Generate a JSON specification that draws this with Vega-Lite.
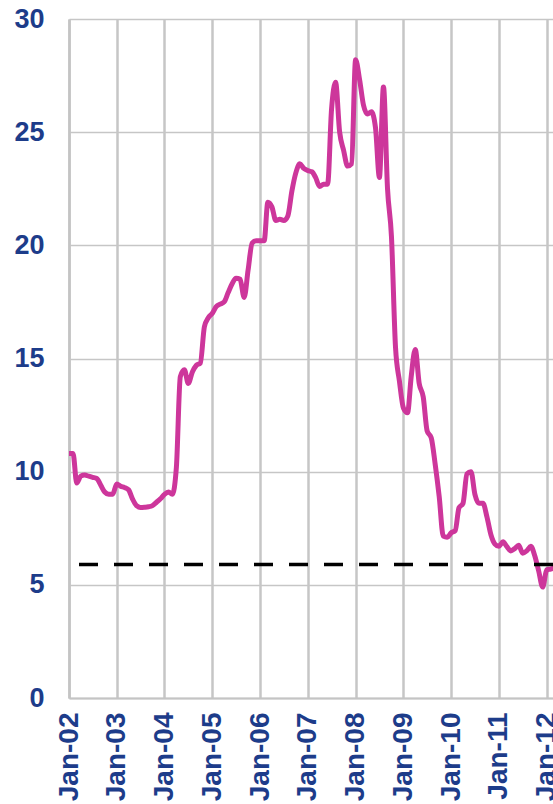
{
  "$schema": "https://vega.github.io/schema/vega-lite/v6.json",
  "width": 484,
  "height": 679,
  "autosize": "none",
  "padding": {"left": 69, "top": 19, "right": 0, "bottom": 106},
  "config": {"view": {"stroke": null}},
  "datasets": {
    "series": [
      {"date": "2002-01-01", "value": 10.8},
      {"date": "2002-02-01", "value": 10.8},
      {"date": "2002-03-01", "value": 9.5},
      {"date": "2002-04-01", "value": 9.8},
      {"date": "2002-05-01", "value": 9.85},
      {"date": "2002-06-01", "value": 9.8},
      {"date": "2002-07-01", "value": 9.75},
      {"date": "2002-08-01", "value": 9.7},
      {"date": "2002-09-01", "value": 9.4},
      {"date": "2002-10-01", "value": 9.1},
      {"date": "2002-11-01", "value": 9.0},
      {"date": "2002-12-01", "value": 9.0},
      {"date": "2003-01-01", "value": 9.45},
      {"date": "2003-02-01", "value": 9.35},
      {"date": "2003-03-01", "value": 9.3},
      {"date": "2003-04-01", "value": 9.2},
      {"date": "2003-05-01", "value": 8.8},
      {"date": "2003-06-01", "value": 8.5},
      {"date": "2003-07-01", "value": 8.42},
      {"date": "2003-08-01", "value": 8.43},
      {"date": "2003-09-01", "value": 8.45},
      {"date": "2003-10-01", "value": 8.5},
      {"date": "2003-11-01", "value": 8.65},
      {"date": "2003-12-01", "value": 8.8},
      {"date": "2004-01-01", "value": 9.0},
      {"date": "2004-02-01", "value": 9.1},
      {"date": "2004-03-01", "value": 9.0},
      {"date": "2004-04-01", "value": 10.2},
      {"date": "2004-05-01", "value": 14.2},
      {"date": "2004-06-01", "value": 14.5},
      {"date": "2004-07-01", "value": 13.9},
      {"date": "2004-08-01", "value": 14.4},
      {"date": "2004-09-01", "value": 14.7},
      {"date": "2004-10-01", "value": 14.8},
      {"date": "2004-11-01", "value": 16.4},
      {"date": "2004-12-01", "value": 16.8},
      {"date": "2005-01-01", "value": 17.0},
      {"date": "2005-02-01", "value": 17.3},
      {"date": "2005-03-01", "value": 17.4},
      {"date": "2005-04-01", "value": 17.5},
      {"date": "2005-05-01", "value": 17.9},
      {"date": "2005-06-01", "value": 18.3},
      {"date": "2005-07-01", "value": 18.55},
      {"date": "2005-08-01", "value": 18.5},
      {"date": "2005-09-01", "value": 17.7},
      {"date": "2005-10-01", "value": 18.9},
      {"date": "2005-11-01", "value": 20.1},
      {"date": "2005-12-01", "value": 20.2},
      {"date": "2006-01-01", "value": 20.2},
      {"date": "2006-02-01", "value": 20.2},
      {"date": "2006-03-01", "value": 21.9},
      {"date": "2006-04-01", "value": 21.7},
      {"date": "2006-05-01", "value": 21.1},
      {"date": "2006-06-01", "value": 21.15},
      {"date": "2006-07-01", "value": 21.1},
      {"date": "2006-08-01", "value": 21.3},
      {"date": "2006-09-01", "value": 22.4},
      {"date": "2006-10-01", "value": 23.2},
      {"date": "2006-11-01", "value": 23.6},
      {"date": "2006-12-01", "value": 23.4},
      {"date": "2007-01-01", "value": 23.3},
      {"date": "2007-02-01", "value": 23.25},
      {"date": "2007-03-01", "value": 23.0},
      {"date": "2007-04-01", "value": 22.6},
      {"date": "2007-05-01", "value": 22.7},
      {"date": "2007-06-01", "value": 22.7},
      {"date": "2007-07-01", "value": 26.0},
      {"date": "2007-08-01", "value": 27.2},
      {"date": "2007-09-01", "value": 25.0},
      {"date": "2007-10-01", "value": 24.2},
      {"date": "2007-11-01", "value": 23.5},
      {"date": "2007-12-01", "value": 23.6},
      {"date": "2008-01-01", "value": 28.2},
      {"date": "2008-02-01", "value": 27.3},
      {"date": "2008-03-01", "value": 26.2},
      {"date": "2008-04-01", "value": 25.8},
      {"date": "2008-05-01", "value": 25.9},
      {"date": "2008-06-01", "value": 25.2},
      {"date": "2008-07-01", "value": 23.0},
      {"date": "2008-08-01", "value": 27.0},
      {"date": "2008-09-01", "value": 22.5},
      {"date": "2008-10-01", "value": 20.4},
      {"date": "2008-11-01", "value": 15.5},
      {"date": "2008-12-01", "value": 14.0},
      {"date": "2009-01-01", "value": 12.8},
      {"date": "2009-02-01", "value": 12.6},
      {"date": "2009-03-01", "value": 14.2},
      {"date": "2009-04-01", "value": 15.4},
      {"date": "2009-05-01", "value": 13.9},
      {"date": "2009-06-01", "value": 13.3},
      {"date": "2009-07-01", "value": 11.8},
      {"date": "2009-08-01", "value": 11.5},
      {"date": "2009-09-01", "value": 10.3},
      {"date": "2009-10-01", "value": 8.9},
      {"date": "2009-11-01", "value": 7.15},
      {"date": "2009-12-01", "value": 7.1},
      {"date": "2010-01-01", "value": 7.3},
      {"date": "2010-02-01", "value": 7.4},
      {"date": "2010-03-01", "value": 8.4},
      {"date": "2010-04-01", "value": 8.6},
      {"date": "2010-05-01", "value": 9.9},
      {"date": "2010-06-01", "value": 10.0},
      {"date": "2010-07-01", "value": 9.0},
      {"date": "2010-08-01", "value": 8.6},
      {"date": "2010-09-01", "value": 8.6},
      {"date": "2010-10-01", "value": 8.0},
      {"date": "2010-11-01", "value": 7.2},
      {"date": "2010-12-01", "value": 6.8},
      {"date": "2011-01-01", "value": 6.7},
      {"date": "2011-02-01", "value": 6.9},
      {"date": "2011-03-01", "value": 6.7},
      {"date": "2011-04-01", "value": 6.5},
      {"date": "2011-05-01", "value": 6.6},
      {"date": "2011-06-01", "value": 6.75},
      {"date": "2011-07-01", "value": 6.4},
      {"date": "2011-08-01", "value": 6.5},
      {"date": "2011-09-01", "value": 6.7},
      {"date": "2011-10-01", "value": 6.3},
      {"date": "2011-11-01", "value": 5.6},
      {"date": "2011-12-01", "value": 4.9},
      {"date": "2012-01-01", "value": 5.66},
      {"date": "2012-02-01", "value": 5.7},
      {"date": "2012-03-01", "value": 5.75}
    ],
    "threshold": [{"level": 5.9}]
  },
  "layer": [
    {
      "data": {"name": "series"},
      "mark": {"type": "line", "color": "#cd369b", "strokeWidth": 5, "interpolate": "monotone", "clip": true, "strokeJoin": "round"},
      "encoding": {
        "x": {
          "field": "date",
          "type": "temporal",
          "scale": {"type": "utc", "domain": [{"year": 2002, "month": 1, "date": 1, "utc": true}, {"year": 2012, "month": 2, "date": 18, "utc": true}]},
          "axis": {
            "title": null,
            "values": [
              {"year": 2002, "month": 1, "date": 1, "utc": true},
              {"year": 2003, "month": 1, "date": 1, "utc": true},
              {"year": 2004, "month": 1, "date": 1, "utc": true},
              {"year": 2005, "month": 1, "date": 1, "utc": true},
              {"year": 2006, "month": 1, "date": 1, "utc": true},
              {"year": 2007, "month": 1, "date": 1, "utc": true},
              {"year": 2008, "month": 1, "date": 1, "utc": true},
              {"year": 2009, "month": 1, "date": 1, "utc": true},
              {"year": 2010, "month": 1, "date": 1, "utc": true},
              {"year": 2011, "month": 1, "date": 1, "utc": true},
              {"year": 2012, "month": 1, "date": 1, "utc": true}
            ],
            "labelExpr": "utcFormat(datum.value, '%b-%y')",
            "labelAngle": 270,
            "labelFont": "Liberation Sans",
            "labelFontWeight": "bold",
            "labelFontSize": 28,
            "labelColor": "#1d3c8a",
            "labelPadding": 14,
            "labelOverlap": false,
            "labelFlush": false,
            "ticks": false,
            "domainColor": "#c4c4c4",
            "domainWidth": 2,
            "grid": true,
            "gridColor": "#c6c6c6",
            "gridWidth": 2.5
          }
        },
        "y": {
          "field": "value",
          "type": "quantitative",
          "scale": {"domain": [0, 30], "nice": false, "zero": true},
          "axis": {
            "title": null,
            "values": [0, 5, 10, 15, 20, 25, 30],
            "labelFont": "Liberation Sans",
            "labelFontWeight": "bold",
            "labelFontSize": 27,
            "labelColor": "#1d3c8a",
            "labelPadding": 25,
            "ticks": false,
            "domainColor": "#c4c4c4",
            "domainWidth": 2.5,
            "grid": true,
            "gridColor": "#c6c6c6",
            "gridWidth": 1.5
          }
        }
      }
    },
    {
      "data": {"name": "threshold"},
      "mark": {"type": "rule", "color": "#000000", "strokeWidth": 3.5, "strokeDash": [19, 16]},
      "encoding": {
        "y": {"field": "level", "type": "quantitative"}
      }
    }
  ]
}
